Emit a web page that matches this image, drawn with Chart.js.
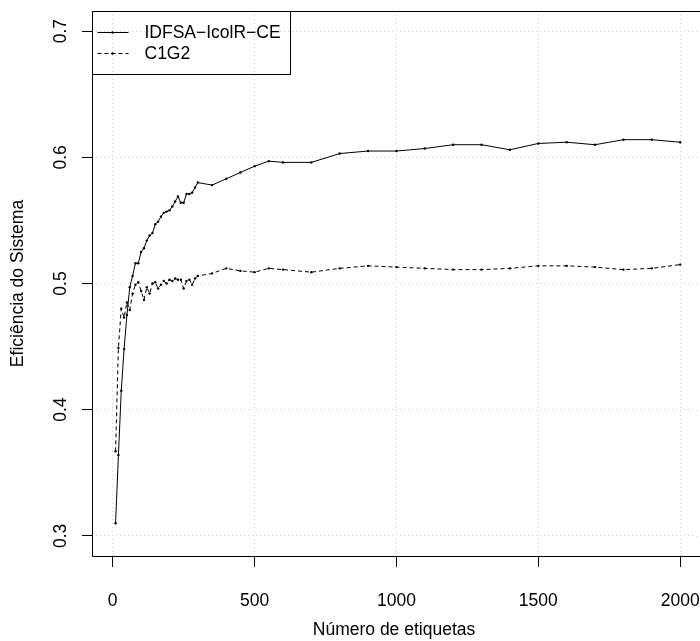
<!DOCTYPE html>
<html>
<head>
<meta charset="utf-8">
<script src="https://cdn.jsdelivr.net/npm/chart.js@4.4.0/dist/chart.umd.min.js"></script>
<style>
  html, body { margin: 0; padding: 0; background: #fff; }
  #wrap { width: 700px; height: 641px; }
</style>
</head>
<body>
<div id="wrap"><canvas id="effChart"></canvas></div>
<script>
// ---- data ----
const tagCounts = [10, 20, 30, 40, 50, 60, 70, 80, 90, 100,
    110, 120, 130, 140, 150, 160, 170, 180, 190, 200,
    210, 220, 230, 240, 250, 260, 270, 280, 290, 300,
    350, 400, 450, 500, 550, 600,
    700, 800, 900, 1000, 1100, 1200, 1300, 1400, 1500, 1600, 1700, 1800, 1900, 2000];

const idfsaEff = [0.310, 0.364, 0.415, 0.448, 0.475, 0.497, 0.506, 0.516, 0.516, 0.525,
    0.528, 0.534, 0.538, 0.540, 0.547, 0.549, 0.553, 0.556, 0.557, 0.558,
    0.561, 0.565, 0.569, 0.564, 0.564, 0.571, 0.571, 0.572, 0.576, 0.580,
    0.578, 0.583, 0.588, 0.593, 0.597, 0.596,
    0.596, 0.603, 0.605, 0.605, 0.607, 0.610, 0.610, 0.606, 0.611, 0.612, 0.610, 0.614, 0.614, 0.612];

const c1g2Eff = [0.367, 0.449, 0.480, 0.473, 0.485, 0.479, 0.492, 0.499, 0.501, 0.494,
    0.487, 0.497, 0.492, 0.500, 0.501, 0.496, 0.499, 0.502, 0.500, 0.503,
    0.502, 0.504, 0.503, 0.503, 0.496, 0.502, 0.503, 0.499, 0.504, 0.506,
    0.508, 0.512, 0.510, 0.509, 0.512, 0.511,
    0.509, 0.512, 0.514, 0.513, 0.512, 0.511, 0.511, 0.512, 0.514, 0.514, 0.513, 0.511, 0.512, 0.515];

const xTicks = [0, 500, 1000, 1500, 2000];
const yTicks = [0.3, 0.4, 0.5, 0.6, 0.7];

const seriesNames = ["IDFSA\u2212IcolR\u2212CE", "C1G2"];

// ---- global style (R base graphics look) ----
Chart.defaults.font.family = "'Liberation Sans', Arial, Helvetica, sans-serif";
Chart.defaults.font.size = 17.5;
Chart.defaults.color = "#000";

const toPoints = (ys) => tagCounts.map((x, i) => ({ x: x, y: ys[i] }));

// frame, rotated y tick labels and the boxed legend
const rStyle = {
    id: "rStyle",
    afterDraw(chart) {
        const ctx = chart.ctx;
        const area = chart.chartArea;
        const ys = chart.scales.y;
        const L = Math.round(area.left) + 0.5;
        const T = Math.round(area.top) + 0.5;
        const B = Math.round(area.bottom) + 0.5;

        ctx.save();
        // grid lines run on to the page edge, like the R plot
        ctx.strokeStyle = "lightgray";
        ctx.setLineDash([1, 3]);
        yTicks.forEach(v => {
            const py = Math.round(ys.getPixelForValue(v)) + 0.5;
            ctx.beginPath();
            ctx.moveTo(area.right, py);
            ctx.lineTo(chart.width, py);
            ctx.stroke();
        });
        ctx.setLineDash([]);

        // box (right side falls off the page)
        ctx.strokeStyle = "#000";
        ctx.lineWidth = 1;
        ctx.beginPath();
        ctx.moveTo(chart.width, T);
        ctx.lineTo(L, T);
        ctx.lineTo(L, B);
        ctx.lineTo(chart.width, B);
        ctx.stroke();

        // y tick labels, parallel to the axis
        ctx.fillStyle = "#000";
        ctx.font = "17.5px 'Liberation Sans', Arial, sans-serif";
        ctx.textAlign = "center";
        ctx.textBaseline = "middle";
        yTicks.forEach(v => {
            const py = ys.getPixelForValue(v);
            ctx.save();
            ctx.translate(area.left - 31, py);
            ctx.rotate(-Math.PI / 2);
            ctx.fillText(String(v), 0, 0);
            ctx.restore();
        });

        // legend box
        ctx.strokeRect(L, T, 198, 63);
        ctx.textAlign = "left";
        chart.data.datasets.forEach((ds, i) => {
            const rowY = T + 21 + i * 21;
            ctx.beginPath();
            ctx.setLineDash(ds.borderDash || []);
            ctx.moveTo(L + 5, rowY);
            ctx.lineTo(L + 36, rowY);
            ctx.stroke();
            ctx.setLineDash([]);
            ctx.beginPath();
            ctx.arc(L + 20, rowY, 1.2, 0, Math.PI * 2);
            ctx.fill();
            ctx.fillText(ds.label, L + 52, rowY + 1);
        });
        ctx.restore();
    }
};

const ctxEff = document.getElementById("effChart").getContext("2d");
new Chart(ctxEff, {
    type: "line",
    data: {
        datasets: [
            {
                label: seriesNames[0],
                data: toPoints(idfsaEff),
                borderColor: "#000",
                backgroundColor: "#000",
                borderWidth: 1,
                pointRadius: 1.2,
                pointBorderWidth: 0,
                pointBackgroundColor: "#000",
                tension: 0
            },
            {
                label: seriesNames[1],
                data: toPoints(c1g2Eff),
                borderColor: "#000",
                backgroundColor: "#000",
                borderWidth: 1,
                borderDash: [4, 3],
                pointRadius: 1.2,
                pointBorderWidth: 0,
                pointBackgroundColor: "#000",
                tension: 0
            }
        ]
    },
    options: {
        responsive: true,
        maintainAspectRatio: false,
        animation: false,
        layout: { padding: { top: 11, right: 0, bottom: 0, left: 0 } },
        scales: {
            x: {
                type: "linear",
                min: -73.1,
                max: 2055.8,
                afterBuildTicks: (s) => { s.ticks = xTicks.map(v => ({ value: v })); },
                afterFit: (s) => { s.height = 85; s.paddingLeft = 0; s.paddingRight = 0; },
                grid: {
                    color: "lightgray",
                    tickColor: "#000",
                    tickLength: 11,
                    tickWidth: 1
                },
                border: { display: false, dash: [1, 3] },
                ticks: { padding: 24, maxRotation: 0, callback: (v) => String(v) },
                title: { display: true, text: "Número de etiquetas", padding: { top: 0, bottom: 0 } }
            },
            y: {
                type: "linear",
                min: 0.284,
                max: 0.716,
                afterBuildTicks: (s) => { s.ticks = yTicks.map(v => ({ value: v })); },
                afterFit: (s) => { s.width = 92; s.paddingTop = 0; s.paddingBottom = 0; },
                grid: {
                    color: "lightgray",
                    tickColor: "#000",
                    tickLength: 10,
                    tickWidth: 1
                },
                border: { display: false, dash: [1, 3] },
                ticks: { display: false },
                title: { display: true, text: "Eficiência do Sistema", padding: { top: 8, bottom: 0 } }
            }
        },
        plugins: {
            legend: { display: false },
            tooltip: { enabled: false }
        }
    },
    plugins: [rStyle]
});
</script>
</body>
</html>
